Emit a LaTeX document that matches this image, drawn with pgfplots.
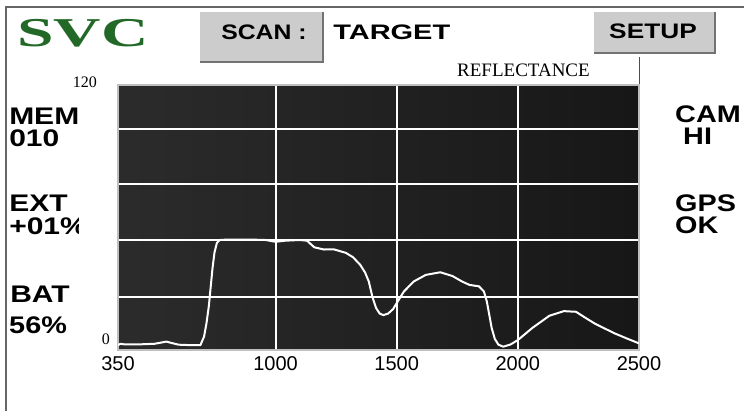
\documentclass[border=0pt]{standalone}
\usepackage{fontspec}
\setmainfont{Liberation Serif}
\setsansfont{Liberation Sans}
\usepackage{pgfplots}
\pgfplotsset{compat=1.18}

\definecolor{svcgreen}{RGB}{34,104,38}
\definecolor{btngray}{RGB}{204,204,204}

\newcommand{\bigsans}{\fontsize{24}{24}\selectfont\sffamily\bfseries}
\newcommand{\btnsans}{\fontsize{21}{22}\selectfont\sffamily\bfseries}

\begin{document}
\begin{tikzpicture}[x=1pt,y=1pt]
  \useasboundingbox (0,0) rectangle (744,411);
  \fill[white] (0,0) rectangle (744,411);
  % screen frame
  \draw[black!60, line width=1.6pt] (6,0) -- (6,404) -- (744,404);

  % header
  \node[anchor=base west, inner sep=0pt, xscale=1.6, text=svcgreen]
    at (17,364) {\fontsize{41}{42}\selectfont\bfseries SVC};
  \fill[btngray] (200,349) rectangle (323,399);
  \draw[black!55, line width=2pt] (323,399) -- (323,349) -- (200,349);
  \node[anchor=base, inner sep=0pt, xscale=1.18] at (264,371) {\btnsans SCAN :};
  \node[anchor=base west, inner sep=0pt, xscale=1.38] at (333,371) {\btnsans TARGET};
  \fill[btngray] (594,358) rectangle (715,399);
  \draw[black!55, line width=2pt] (715,399) -- (715,358) -- (594,358);
  \node[anchor=base, inner sep=0pt, xscale=1.25] at (653,372) {\btnsans SETUP};
  \node[anchor=base west, inner sep=0pt] at (457,334) {\fontsize{19}{20}\selectfont REFLECTANCE};
  \draw[black!70, line width=1pt] (639,326) -- (639,354);

  % left column
  \begin{scope}
    \clip (8,0) rectangle (78,404);
    \node[anchor=base west, inner sep=0pt, xscale=1.25] at (9,286) {\bigsans MEM};
    \node[anchor=base west, inner sep=0pt, xscale=1.25] at (9,264) {\bigsans 010};
    \node[anchor=base west, inner sep=0pt, xscale=1.25] at (9,199) {\bigsans EXT};
    \node[anchor=base west, inner sep=0pt, xscale=1.25] at (9,176) {\bigsans +01\%};
    \node[anchor=base west, inner sep=0pt, xscale=1.25] at (10,108) {\bigsans BAT};
    \node[anchor=base west, inner sep=0pt, xscale=1.2] at (9,77) {\bigsans 56\%};
  \end{scope}

  % right column
  \node[anchor=base west, inner sep=0pt, xscale=1.2] at (675,288) {\bigsans CAM};
  \node[anchor=base west, inner sep=0pt, xscale=1.2] at (683,266) {\bigsans HI};
  \node[anchor=base west, inner sep=0pt, xscale=1.2] at (675,199) {\bigsans GPS};
  \node[anchor=base west, inner sep=0pt, xscale=1.2] at (675,177) {\bigsans OK};

  \begin{axis}[
      at={(118pt,61pt)}, anchor=south west,
      scale only axis, width=521pt, height=265pt,
      xmin=350, xmax=2500, ymin=0, ymax=120,
      xtick={350,1000,1500,2000,2500},
      xticklabels={350,1000,1500,2000,2500},
      xticklabel style={font=\fontsize{20}{20}\selectfont\sffamily, anchor=north, inner sep=0pt, yshift=-6pt},
      ytick={0,24,50,75,100}, yticklabels={0,,,,},
      yticklabel style={font=\fontsize{16}{16}\selectfont\rmfamily, anchor=east, inner sep=0pt, xshift=-8pt, yshift=11pt},
      extra y ticks={120}, extra y tick labels={120},
      extra y tick style={grid=none, yticklabel style={xshift=-13pt, yshift=-8pt}},
      tick style={draw=none},
      grid=major,
      major grid style={draw=white, line width=2pt},
      axis line style={draw=black!25, line width=1.5pt},
      axis background/.style={left color=black!83, right color=black!91},
      clip=true,
    ]
    \addplot[white, line width=2pt] coordinates {
      (350,2.2) (360,2.8) (380,2.5) (400,2.6) (450,2.6) (500,2.8)
      (530,3.4) (550,3.8) (570,3.2) (600,2.4) (650,2.2) (690,2.2)
      (705,6) (715,12) (725,20) (732,28) (740,37) (748,44) (758,48.5)
      (770,49.8) (800,50) (900,50) (960,49.8) (1000,49) (1040,49.5)
      (1100,49.8) (1130,49.5) (1160,46.5) (1200,45.5) (1240,45.6)
      (1290,44) (1320,42) (1350,38.5) (1370,35) (1385,31) (1400,24)
      (1415,19) (1430,16.5) (1445,15.8) (1465,16.5) (1485,18.5)
      (1510,23) (1530,26.5) (1570,31) (1620,34) (1680,35.2) (1730,33.5)
      (1770,31) (1800,29.5) (1840,28.8) (1860,26.5) (1872,22) (1882,16)
      (1892,10) (1905,5) (1920,2.4) (1940,1.5) (1970,2.5) (2000,4.5)
      (2060,10) (2130,15.5) (2190,17.6) (2240,17.3) (2280,14.5)
      (2320,11.8) (2400,7.5) (2450,5.2) (2500,3)
    };
  \end{axis}
\end{tikzpicture}
\end{document}
